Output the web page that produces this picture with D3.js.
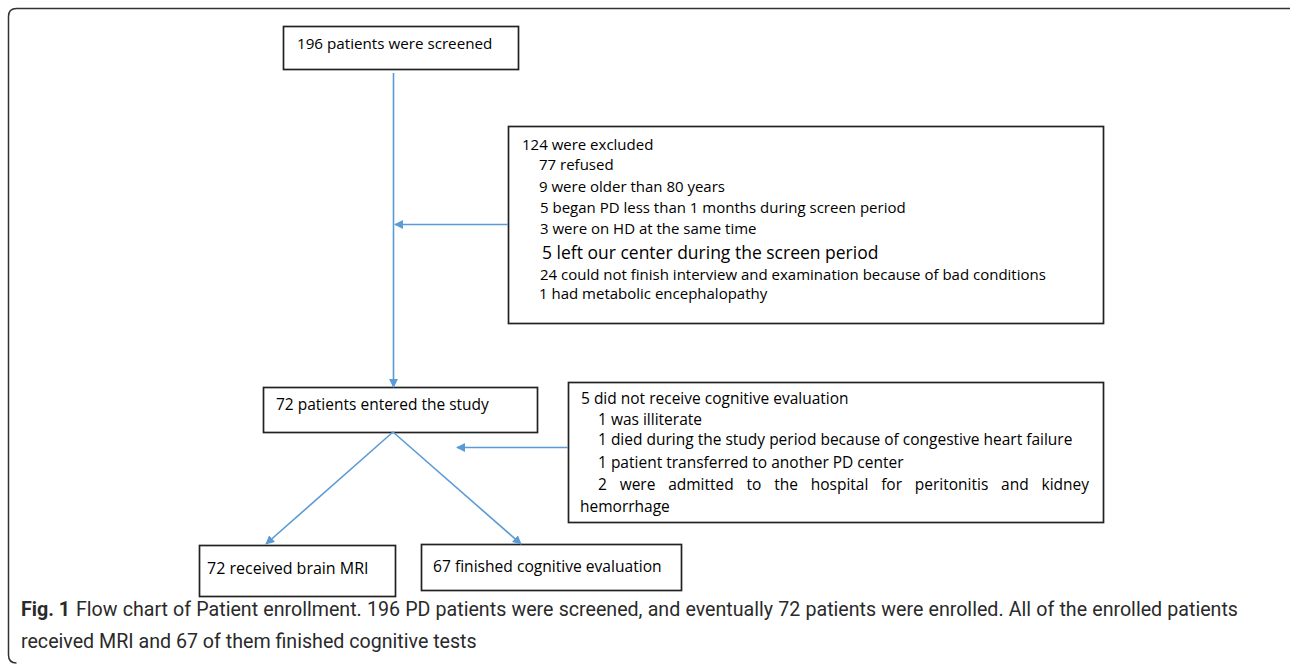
<!DOCTYPE html>
<html><head><meta charset="utf-8">
<script src="https://cdn.jsdelivr.net/npm/d3@7"></script>
<style>body{margin:0;background:#fff}svg{display:block}</style>
</head><body><svg id="c" width="1290" height="664"></svg>
<script>
// ---- data (texts of the flow chart) ----
const screenedText = ["196 patients were screened"];
const excludedLines = [
  "124 were excluded",
  "77 refused",
  "9 were older than 80 years",
  "5 began PD less than 1 months during screen period",
  "3 were on HD at the same time",
  "5 left our center during the screen period",
  "24 could not finish interview and examination because of bad conditions",
  "1 had metabolic encephalopathy"
];
const enteredText = ["72 patients entered the study"];
const noCogLines = [
  "5 did not receive cognitive evaluation",
  "1 was illiterate",
  "1 died during the study period because of congestive heart failure",
  "1 patient transferred to another PD center",
  "2 were admitted to the hospital for peritonitis and kidney",
  "hemorrhage"
];
const mriText = ["72 received brain MRI"];
const cogText = ["67 finished cognitive evaluation"];
const captionBold = "Fig. 1";
const captionLines = [
  "Flow chart of Patient enrollment. 196 PD patients were screened, and eventually 72 patients were enrolled. All of the enrolled patients",
  "received MRI and 67 of them finished cognitive tests"
];

// ---- layout ----
const svg = d3.select("#c");
const boxFont = "'Open Sans', Lato, sans-serif";
const arrowColor = "#5b9bd5";

svg.append("path")
  .attr("d", "M1290,8.5 L16.5,8.5 Q8.5,8.5 8.5,16.5 L8.5,655 Q8.5,663 16.5,663")
  .attr("fill", "none").attr("stroke", "#333").attr("stroke-width", 1.5);

const boxes = [
  {x:283, y:26, w:235, h:43},
  {x:508, y:126, w:595, h:197},
  {x:263, y:387, w:274, h:45},
  {x:568, y:382, w:535, h:140},
  {x:199, y:545, w:196, h:51},
  {x:421, y:544, w:260, h:46}
];
svg.selectAll("rect.box").data(boxes).join("rect").attr("class","box")
  .attr("x", d=>d.x+0.5).attr("y", d=>d.y+0.5).attr("width", d=>d.w).attr("height", d=>d.h)
  .attr("fill", "#fff").attr("stroke", "#222").attr("stroke-width", 1.7);

function block(arr, xs, ys, sizes) {
  svg.append("g").attr("fill", "#000").attr("font-family", boxFont)
    .selectAll("text").data(arr).join("text")
    .attr("x", (d,i)=>xs[i]).attr("y", (d,i)=>ys[i])
    .attr("font-size", (d,i)=>sizes[i]).text(d=>d);
}
block(screenedText, [297], [49], [15.2]);
block(enteredText, [276], [410], [15.5]);
block(mriText, [207], [574], [16]);
block(cogText, [433], [572], [15.6]);
block(excludedLines,
  [522,539,539,540,540,542,540,539],
  [150,170,192,213,234,259,280,299],
  [15,15,15,15,15,17.5,15,15]);

const nc = noCogLines;
block([nc[0], nc[1], nc[2], nc[3], nc[5]],
  [581,598,598,598,580],
  [404,425,445,468,512],
  [15.5,15.5,15.5,15.5,15.5]);

// justified line
(function justify(text, x0, x1, y, size){
  const words = text.split(" ");
  const g = svg.append("g").attr("font-family", boxFont).attr("font-size", size).attr("fill","#000");
  const ts = words.map(w => g.append("text").attr("y", y).text(w));
  const ws = ts.map(t => t.node().getComputedTextLength());
  const gap = (x1 - x0 - d3.sum(ws)) / (words.length - 1);
  let x = x0;
  ts.forEach((t,i)=>{ t.attr("x", x); x += ws[i] + gap; });
})(nc[4], 598, 1089, 490, 15.5);

// arrows
const defs = svg.append("defs");
defs.append("marker").attr("id","ah").attr("viewBox","0 0 10 10").attr("refX",9).attr("refY",5)
  .attr("markerWidth",9).attr("markerHeight",9).attr("orient","auto")
  .attr("markerUnits","userSpaceOnUse")
  .append("path").attr("d","M0,0 L10,5 L0,10 z").attr("fill", arrowColor);

const arrows = [
  [[393.5,73],[393.5,387]],
  [[508,224.5],[395,224.5]],
  [[568,447.5],[457,447.5]],
  [[393,432],[266,544]],
  [[393,432],[521,544]]
];
svg.selectAll("line.arr").data(arrows).join("line").attr("class","arr")
  .attr("x1",d=>d[0][0]).attr("y1",d=>d[0][1]).attr("x2",d=>d[1][0]).attr("y2",d=>d[1][1])
  .attr("stroke", arrowColor).attr("stroke-width",1.6).attr("marker-end","url(#ah)");

// caption
const capFont = "Roboto, 'Liberation Sans', sans-serif";
(function(){
  const g = svg.append("g").attr("fill","#2a2a2a").attr("font-family", capFont);
  const t2 = g.append("text").attr("x",21).attr("y",648).attr("font-size",20).text(captionLines[1]);
  const fs = 20 * 456 / t2.node().getComputedTextLength();
  t2.attr("font-size", fs);
  const b = g.append("text").attr("x",21).attr("y",616)
    .attr("font-size", fs).attr("font-weight","bold").text(captionBold);
  const bw = b.node().getComputedTextLength();
  const x0 = 21 + bw + fs*0.3, x1 = 1238;
  const words = captionLines[0].split(" ");
  const ts = words.map(w => g.append("text").attr("y",616).attr("font-size", fs).text(w));
  const ws = ts.map(t=>t.node().getComputedTextLength());
  const gap = (x1 - x0 - d3.sum(ws)) / (words.length - 1);
  let x = x0;
  ts.forEach((t,i)=>{ t.attr("x", x); x += ws[i] + gap; });
})();
</script></body></html>
